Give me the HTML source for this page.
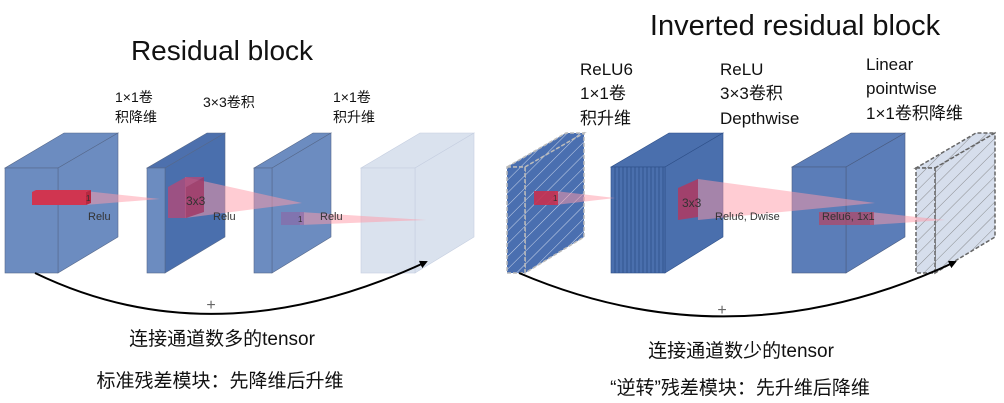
<!DOCTYPE html>
<html><head><meta charset="utf-8"><style>
html,body{margin:0;padding:0;background:#fff;}
svg{display:block;font-family:"Liberation Sans","Noto Sans CJK SC",sans-serif;}
</style></head><body>
<svg width="1004" height="403" viewBox="0 0 1004 403" xmlns="http://www.w3.org/2000/svg">
<defs>
<pattern id="h1" width="9" height="9" patternUnits="userSpaceOnUse" patternTransform="rotate(45)"><rect width="9" height="9" fill="#4a6fb0"/><line x1="0" y1="0" x2="0" y2="9" stroke="#c8d4ea" stroke-width="1"/></pattern>
<pattern id="h2" width="9" height="9" patternUnits="userSpaceOnUse" patternTransform="rotate(45)"><rect width="9" height="9" fill="#d6deec"/><line x1="0" y1="0" x2="0" y2="9" stroke="#777" stroke-width="0.8"/></pattern>
<marker id="ar" markerWidth="8" markerHeight="8" refX="6" refY="4" orient="auto" markerUnits="userSpaceOnUse"><path d="M0,0 L8,4 L0,8 z" fill="#000"/></marker>
</defs>

<text x="222" y="60" font-size="28" text-anchor="middle" fill="#111">Residual block</text>
<g font-size="14" fill="#111">
<text x="115" y="102">1×1卷</text><text x="115" y="122">积降维</text>
<text x="203" y="107">3×3卷积</text>
<text x="333" y="102">1×1卷</text><text x="333" y="122">积升维</text>
</g>
<g stroke="#56688a" stroke-width="0.6">
<polygon points="5,168 58,168 118,133 64,133" fill="#6c8cc0"/>
<polygon points="58,168 118,133 118,237 58,273" fill="#6c8cc0"/>
<rect x="5" y="168" width="53" height="105" fill="#6c8cc0"/>
<polygon points="147,168 165,168 225,133 207,133" fill="#4d70ad"/>
<polygon points="165,168 225,133 225,237 165,273" fill="#4a6fad"/>
<rect x="147" y="168" width="18" height="105" fill="#6c8cc0"/>
<polygon points="254,168 272,168 331,133 313,133" fill="#6c8cc0"/>
<polygon points="272,168 331,133 331,237 272,273" fill="#6c8cc0"/>
<rect x="254" y="168" width="18" height="105" fill="#6c8cc0"/>
</g>
<g stroke="#c5cee0" stroke-width="0.6">
<polygon points="361,168 415,168 474,133 420,133" fill="#dae2ee"/>
<polygon points="415,168 474,133 474,237 415,273" fill="#dae2ee"/>
<rect x="361" y="168" width="54" height="105" fill="#dae2ee"/>
</g>
<polygon points="85,191 160,199 85,205" fill="#ff9aa8" opacity="0.5"/>
<rect x="32" y="192" width="54" height="13" fill="#d03550"/>
<polygon points="32,192 36,190 91,190 86,192" fill="#d03550"/>
<polygon points="86,192 91,190 91,203 86,205" fill="#b82840"/>
<polygon points="185,177 302,203 185,218" fill="#ff9aa8" opacity="0.5"/>
<polygon points="168,187 186,177 204,177 186,187" fill="#b04a78" opacity="0.8"/>
<rect x="168" y="187" width="18" height="31" fill="#b04a78" opacity="0.8"/>
<polygon points="186,187 204,177 204,212 186,218" fill="#a03866" opacity="0.85"/>
<polygon points="300,212 426,220 300,225" fill="#ff9aa8" opacity="0.5"/>
<rect x="281" y="212" width="23" height="13" fill="#8a6aa8" opacity="0.7"/>
<g font-size="11" fill="#333">
<text x="86" y="201" font-size="8">1</text>
<text x="88" y="220">Relu</text>
<text x="186" y="205" font-size="12">3x3</text>
<text x="213" y="220">Relu</text>
<text x="298" y="222" font-size="8">1</text>
<text x="320" y="220">Relu</text>
</g>
<path d="M35,273 Q215,360 426,262" fill="none" stroke="#000" stroke-width="2" marker-end="url(#ar)"/>
<text x="211" y="310" font-size="16" text-anchor="middle" fill="#666">+</text>
<text x="222" y="345" font-size="19" text-anchor="middle" fill="#111">连接通道数多的tensor</text>
<text x="220" y="387" font-size="19" text-anchor="middle" fill="#111">标准残差模块：先降维后升维</text>

<text x="795" y="35" font-size="29" text-anchor="middle" fill="#111">Inverted residual block</text>
<g font-size="17" fill="#111">
<text x="580" y="75">ReLU6</text><text x="580" y="99">1×1卷</text><text x="580" y="124">积升维</text>
<text x="720" y="75">ReLU</text><text x="720" y="99">3×3卷积</text><text x="720" y="124">Depthwise</text>
<text x="866" y="70">Linear</text><text x="866" y="94">pointwise</text><text x="866" y="119">1×1卷积降维</text>
</g>
<g stroke="#bbb" stroke-width="1.5" stroke-dasharray="4,2">
<polygon points="507,167 525,167 584,133 566,133" fill="url(#h1)"/>
<polygon points="525,167 584,133 584,237 525,273" fill="url(#h1)"/>
<rect x="507" y="167" width="18" height="106" fill="url(#h1)"/>
</g>
<g stroke="#2e4f88" stroke-width="0.6">
<polygon points="611,167 665,167 723,133 669,133" fill="#4a6fad"/>
<polygon points="665,167 723,133 723,237 665,273" fill="#4a6fad"/>
<rect x="611" y="167" width="54" height="106" fill="#4a6fad"/>
</g>
<g stroke="#2e4f88" stroke-width="0.8">
<line x1="615" y1="167" x2="615" y2="273"/><line x1="619" y1="167" x2="619" y2="273"/><line x1="623" y1="167" x2="623" y2="273"/><line x1="627" y1="167" x2="627" y2="273"/><line x1="631" y1="167" x2="631" y2="273"/><line x1="635" y1="167" x2="635" y2="273"/><line x1="639" y1="167" x2="639" y2="273"/><line x1="643" y1="167" x2="643" y2="273"/><line x1="647" y1="167" x2="647" y2="273"/><line x1="651" y1="167" x2="651" y2="273"/><line x1="655" y1="167" x2="655" y2="273"/><line x1="659" y1="167" x2="659" y2="273"/><line x1="663" y1="167" x2="663" y2="273"/>
</g>
<g stroke="#4a5c80" stroke-width="0.6">
<polygon points="792,167 846,167 905,133 851,133" fill="#5b7db8"/>
<polygon points="846,167 905,133 905,237 846,273" fill="#5b7db8"/>
<rect x="792" y="167" width="54" height="106" fill="#5b7db8"/>
</g>
<g stroke="#666" stroke-width="1.5" stroke-dasharray="4,2">
<polygon points="916,168 935,168 995,133 976,133" fill="url(#h2)"/>
<polygon points="935,168 995,133 995,237 935,273" fill="url(#h2)"/>
<rect x="916" y="168" width="19" height="105" fill="url(#h2)"/>
</g>
<polygon points="555,191 615,198 555,205" fill="#ff9aa8" opacity="0.5"/>
<rect x="534" y="191" width="24" height="14" fill="#c83050" opacity="0.9"/>
<polygon points="698,179 875,203 698,220" fill="#ff9aa8" opacity="0.5"/>
<polygon points="678,188 698,179 698,217 678,220" fill="#b03a60" opacity="0.85"/>
<polygon points="870,212 945,220 870,225" fill="#ff9aa8" opacity="0.5"/>
<rect x="819" y="212" width="55" height="13" fill="#b04868" opacity="0.75"/>
<g font-size="11" fill="#333">
<text x="553" y="201" font-size="8">1</text>
<text x="682" y="207" font-size="12">3x3</text>
<text x="715" y="220">Relu6, Dwise</text>
<text x="822" y="220">Relu6, 1x1</text>
</g>
<path d="M519,273 Q735,365 955,262" fill="none" stroke="#000" stroke-width="2" marker-end="url(#ar)"/>
<text x="722" y="315" font-size="16" text-anchor="middle" fill="#666">+</text>
<text x="741" y="357" font-size="19" text-anchor="middle" fill="#111">连接通道数少的tensor</text>
<text x="740" y="394" font-size="19" text-anchor="middle" fill="#111">“逆转”残差模块：先升维后降维</text>
</svg>
</body></html>
